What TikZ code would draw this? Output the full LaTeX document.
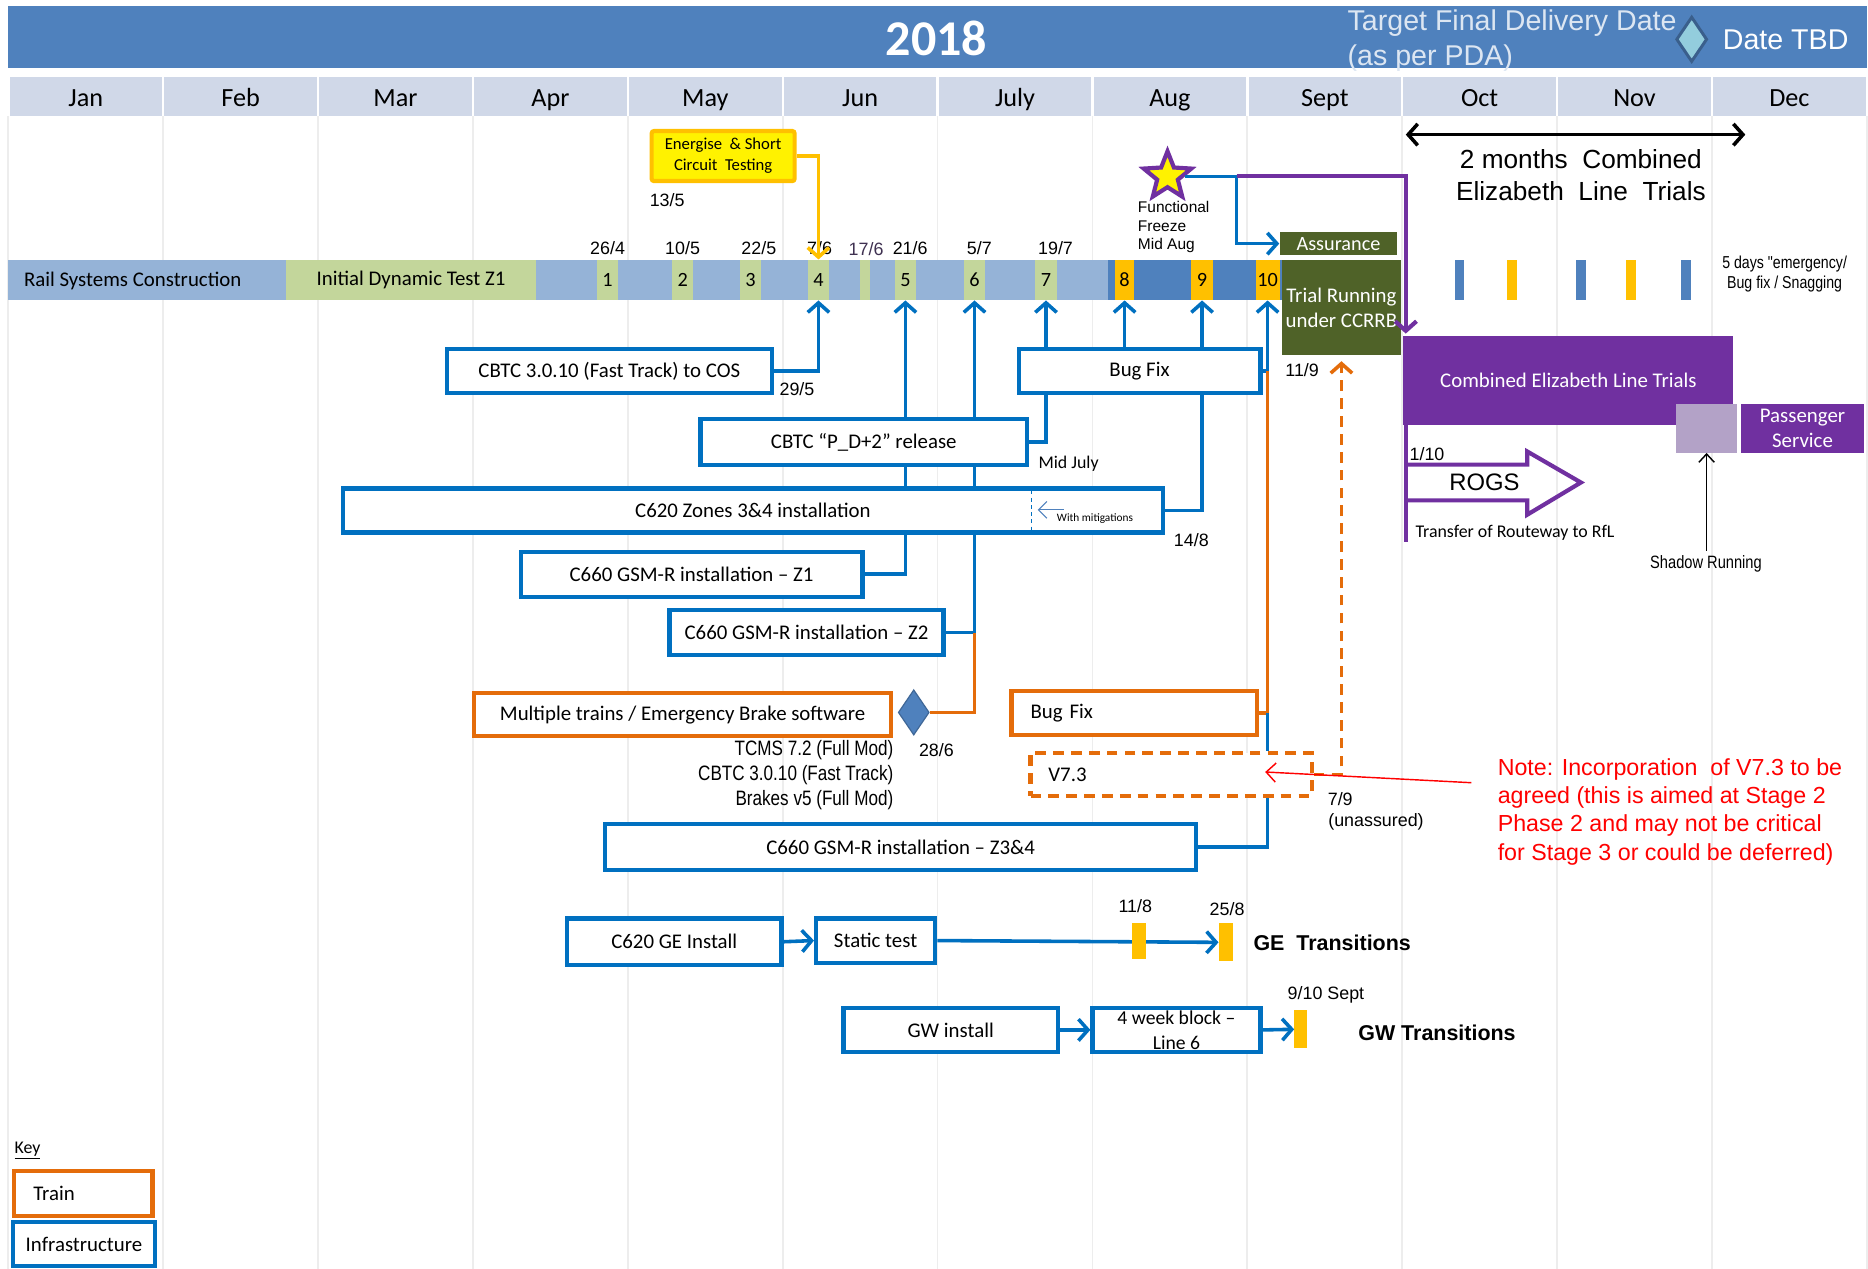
\documentclass[tikz,border=0pt]{standalone}
\usepackage{fontspec}
\setmainfont{Carlito}
\newfontfamily\arial{Liberation Sans}
\newfontfamily\narrow[FakeStretch=0.82]{Liberation Sans}
\usetikzlibrary{arrows.meta,shapes.geometric}
\newcommand\fsz[2]{\fontsize{#1}{#2}\selectfont}
\definecolor{hdr}{HTML}{4F81BD}
\definecolor{mrow}{HTML}{D0D8E8}
\definecolor{barl}{HTML}{95B3D7}
\definecolor{grn}{HTML}{C3D69B}
\definecolor{amber}{HTML}{FFC000}
\definecolor{iblue}{HTML}{0070C0}
\definecolor{torange}{HTML}{E46C0A}
\definecolor{olive}{HTML}{4F6228}
\definecolor{purp}{HTML}{7030A0}
\definecolor{lpurp}{HTML}{B3A2C7}
\definecolor{gridc}{HTML}{EDEDED}
\definecolor{diafill}{HTML}{93CDDD}
\definecolor{diaedge}{HTML}{3A5F8C}
\definecolor{tgt}{HTML}{DCE6F2}
\definecolor{dpurp}{HTML}{3F3151}
\tikzset{
  ibox/.style={draw=iblue, line width=3.5pt, fill=white, inner sep=0pt, font=\fsz{17.5}{19}, align=center},
  obox/.style={ibox, draw=torange},
  conn/.style={draw=iblue, line width=3pt},
  oconn/.style={draw=torange, line width=3pt},
  odash/.style={draw=torange, line width=3pt, dash pattern=on 9pt off 6pt},
  yconn/.style={draw=amber, line width=3pt},
  pline/.style={draw=purp, line width=3.5pt},
  tip/.style={-{Straight Barb[length=8pt,width=18pt]}},
  date/.style={font=\arial\fsz{15}{17}, inner sep=0pt},
  gbox/.style={fill=grn, minimum width=18pt, minimum height=34pt, inner sep=0pt, font=\fsz{17}{19}},
  abox/.style={gbox, fill=amber},
  wbox/.style={text=white, inner sep=0pt, font=\fsz{17.5}{21}, align=center},
}
\begin{document}
\begin{tikzpicture}[x=1pt,y=-1pt]
\path[use as bounding box] (0,0) rectangle (1568,1065);
\fill[white] (0,0) rectangle (1568,1065);
% header
\fill[hdr] (7,5) rectangle (1567,57);
\fill[mrow] (7,65) rectangle (1567,97);
\foreach \i in {0,...,12}{
  \draw[gridc, line width=1.5pt] ({7+130*\i},97) -- ({7+130*\i},1065);
  \draw[white, line width=2pt] ({7+130*\i},65) -- ({7+130*\i},97);
}
\foreach \m [count=\i from 0] in {Jan,Feb,Mar,Apr,May,Jun,July,Aug,Sept,Oct,Nov,Dec}
  \node[font=\fsz{22}{24}, anchor=base, inner sep=0pt] (m\i) at ({72+130*\i},89) {\m};
\node[font=\bfseries\fsz{42}{46}, text=white] (yr) at (786,32) {2018};
\node[font=\arial\fsz{24}{29}, text=tgt, align=left, anchor=west, inner sep=0pt] (target) at (1131,34) {Target Final Delivery Date\\(as per PDA)};
\node[diamond, fill=diafill, draw=diaedge, line width=2.5pt, minimum width=26pt, minimum height=38pt, inner sep=0pt] (tbd) at (1420,33) {};
\node[font=\arial\fsz{24}{28}, text=white, anchor=west, inner sep=0pt] (tbdl) at (1446,33) {Date TBD};

% energise
\node[fill=yellow, draw=amber, line width=3.5pt, rounded corners=2pt, minimum width=120pt, minimum height=42pt, font=\fsz{14}{17.5}, align=center, inner sep=0pt] (energ) at (607,131) {Energise\ \ \& Short\\Circuit\ \ Testing};
\node[date] (d135) at (560,168) {13/5};

% main bar
\fill[barl] (7,218) rectangle (930,252);
\fill[hdr] (930,218) rectangle (1076,252);
\node[font=\fsz{17.5}{19}, anchor=west, inner sep=0pt] (rsc) at (20,236) {Rail Systems Construction};
\node[fill=grn, minimum width=210pt, minimum height=34pt, inner sep=0pt, font=\fsz{17.5}{19}] (idt) at (345,235) {Initial Dynamic Test Z1};
\node[gbox] (n1) at (510,235) {1};
\node[gbox] (n2) at (573,235) {2};
\node[gbox] (n3) at (630,235) {3};
\node[gbox] (n4) at (687,235) {4};
\node[gbox, minimum width=8pt] (ns) at (726,235) {};
\node[gbox] (n5) at (760,235) {5};
\node[gbox] (n6) at (818,235) {6};
\node[gbox] (n7) at (878,235) {7};
\node[abox, minimum width=16pt] (n8) at (944,235) {8};
\node[abox] (n9) at (1009,235) {9};
\node[abox, minimum width=20pt] (n10) at (1064,235) {10};
\node[date] (d1) at (510,208) {26/4};
\node[date] (d2) at (573,208) {10/5};
\node[date] (d3) at (637,208) {22/5};
\node[date] (d4) at (688,208) {7/6};
\node[date, text=dpurp] (d5) at (727,209) {17/6};
\node[date] (d6) at (764,208) {21/6};
\node[date] (d7) at (822,208) {5/7};
\node[date] (d8) at (886,208) {19/7};

% assurance / trial
\node[fill=olive, minimum width=99pt, minimum height=19pt, wbox, font=\fsz{17}{19}] (assur) at (1123.5,204.5) {Assurance};
\node[fill=olive, minimum width=100pt, minimum height=80pt, wbox] (trial) at (1126,258) {Trial Running\\under CCRRB};

% star
\node[star, star points=5, star point ratio=2.3, fill=yellow, draw=purp, line width=3.5pt, minimum size=42pt, inner sep=0pt] (star) at (980,148) {};
\node[font=\arial\fsz{13}{15.5}, align=left, anchor=north west, inner sep=0pt] (ff) at (955,169) {Functional\\Freeze\\Mid Aug};
\coordinate (fj) at (1038,148);
\coordinate (pj) at (1180,148);
\draw[conn, tip] (star.east) -- (fj) |- (assur.west);
\draw[pline, tip] (fj) -- (pj) -- (pj |- 0,280);

% top right
\coordinate (dal) at (1180,113);
\coordinate (dar) at (1465,113);
\draw[line width=3pt, {Straight Barb[length=8pt,width=18pt]}-{Straight Barb[length=8pt,width=18pt]}] (dal) -- (dar);
\node[font=\arial\fsz{22}{27}, align=center] (cmt) at (1327,147) {2 months\ \ Combined\\Elizabeth\ \ Line\ \ Trials};
\fill[hdr] (1221,218) rectangle (1229,252);
\fill[amber] (1265,218) rectangle (1273,252);
\fill[hdr] (1323,218) rectangle (1331,252);
\fill[amber] (1365,218) rectangle (1373,252);
\fill[hdr] (1411,218) rectangle (1419,252);
\node[font=\narrow\fsz{14.5}{16}, align=center] (emerg) at (1498,230) {5 days "emergency/\\Bug fix / Snagging};

\node[fill=purp, minimum width=277pt, minimum height=75pt, wbox] (cet) at (1316.5,319.5) {Combined Elizabeth Line Trials};
\node[fill=lpurp, minimum width=51pt, minimum height=41pt, inner sep=0pt] (lp) at (1432.5,359.5) {};
\node[fill=purp, minimum width=104pt, minimum height=41pt, wbox] (ps) at (1513,359.5) {Passenger\\Service};
\node[font=\narrow\fsz{15}{17}] (shadow) at (1432,473) {Shadow Running};
\draw[line width=1.2pt, -{Straight Barb[length=7pt,width=13pt]}] (shadow.north -| lp.south) -- (lp.south);

\coordinate (rv1) at (1180,357);
\coordinate (rv2) at (1180,455);
\draw[pline] (rv1) -- (rv2);
\draw[purp, line width=3.5pt, line join=miter] (1180,390) -- (1282,390) -- (1282,379) -- (1327,405) -- (1282,432) -- (1282,420) -- (1180,420);
\node[font=\arial\fsz{20}{22}] (rogs) at (1246,405) {ROGS};
\node[date, anchor=west] (d110) at (1183,381) {1/10};
\node[font=\fsz{15}{17}, anchor=west, inner sep=0pt] (trf) at (1188,447) {Transfer of Routeway to RfL};

% middle boxes
\node[ibox, minimum width=273pt, minimum height=37pt] (cbtc) at (511.5,311.5) {CBTC 3.0.10 (Fast Track) to COS};
\node[ibox, minimum width=203pt, minimum height=37pt] (bugfixb) at (956.5,311.5) {Bug Fix};
\node[ibox, minimum width=274pt, minimum height=38pt] (pd2) at (725,371) {CBTC “P\_D+2” release};
\node[ibox, minimum width=688pt, minimum height=37pt] (c620) at (632,428.5) {C620 Zones 3\&4 installation};
\draw[iblue, line width=0.8pt, dashed] (866,412) -- (866,445);
\node[font=\fsz{9.5}{11}, anchor=west, inner sep=0pt] (wm) at (887,435) {With mitigations};
\coordinate (wma) at (893,428);
\draw[hdr, line width=1pt, -{Straight Barb[length=7pt,width=14pt]}] (wma) -- (871,428);
\node[ibox, minimum width=287pt, minimum height=38pt] (z1) at (580.5,482) {C660 GSM-R installation – Z1};
\node[ibox, minimum width=230pt, minimum height=38pt] (z2) at (677,531) {C660 GSM-R installation – Z2};
\node[obox, minimum width=350pt, minimum height=36pt] (mult) at (573,600) {Multiple trains / Emergency Brake software};
\node[diamond, fill=hdr, draw=hdr!80!black, line width=1pt, minimum width=26pt, minimum height=38pt, inner sep=0pt] (dia) at (767,598) {};
\node[obox, minimum height=37pt, text width=174pt, inner xsep=16pt, align=left] (bugfixo) at (952,598.5) {Bug Fix};
\node[obox, dash pattern=on 9pt off 6pt, minimum height=36pt, text width=206pt, inner xsep=15pt, align=left] (v73) at (983,650) {V7.3};
\node[ibox, minimum width=496pt, minimum height=38pt] (z34) at (756,711) {C660 GSM-R installation – Z3\&4};

\node[date] (d295) at (669,327) {29/5};
\node[font=\fsz{15}{17}] (midjul) at (897,389) {Mid July};
\node[date] (d148) at (1000,453) {14/8};
\node[date] (d119) at (1093,311) {11/9};
\node[date] (d286) at (786,630) {28/6};
\node[font=\narrow\fsz{17.5}{21}, align=right, anchor=east, inner sep=0pt] (tcms) at (750,651) {TCMS 7.2 (Full Mod)\\CBTC 3.0.10 (Fast Track)\\Brakes v5 (Full Mod)};
\node[date] (d79) at (1125,671) {7/9};
\node[date] (unas) at (1155,690) {(unassured)};
\node[font=\arial\fsz{19.5}{23.6}, text=red, align=left, anchor=west, inner sep=0pt] (note) at (1257,681.5) {Note: Incorporation\ \ of V7.3 to be\\agreed (this is aimed at Stage 2\\Phase 2 and may not be critical\\for Stage 3 or could be deferred)};
\coordinate (ra1) at (1235,657);
\coordinate (ra2) at (1062,648);

% connectors
\draw[yconn, tip] (energ.east) -| (n4.north);
\draw[conn, tip] (cbtc.east) -| (n4.south);
\draw[conn, tip] (pd2.north -| n5.south) -- (n5.south);
\draw[conn, tip] (pd2.north -| n6.south) -- (n6.south);
\draw[conn] (pd2.east) -| (bugfixb.south -| n7.south);
\draw[conn, tip] (bugfixb.north -| n7.south) -- (n7.south);
\draw[conn, tip] (bugfixb.north -| n8.south) -- (n8.south);
\draw[conn, tip] (bugfixb.north -| n9.south) -- (n9.south);
\draw[conn] (c620.east) -| (bugfixb.south -| n9.south);
\draw[conn] (c620.north -| n5.south) -- (pd2.south -| n5.south);
\draw[conn] (c620.north -| n6.south) -- (pd2.south -| n6.south);
\draw[conn] (z1.east) -| (c620.south -| n5.south);
\draw[conn] (z2.east) -| (c620.south -| n6.south);
\draw[oconn] (dia.east) -| (z2.east -| n6.south);
\draw[conn] (bugfixb.east) -- (bugfixb.east -| n10.south);
\draw[conn, tip] (bugfixb.east -| n10.south) -- (n10.south);
\draw[oconn] (bugfixo.east) -| (bugfixb.east -| n10.south);
\draw[conn] (bugfixo.east -| n10.south) -- (v73.north -| n10.south);
\draw[conn] (z34.east) -| (v73.south -| n10.south);
\draw[odash, tip] (v73.east) -| ([yshift=-5pt]trial.south);
\draw[red, line width=1.2pt, -{Straight Barb[length=8pt,width=16pt]}] (ra1) -- (ra2);

% GE / GW
\node[ibox, minimum width=180pt, minimum height=39pt] (ge) at (566,790.5) {C620 GE Install};
\node[ibox, minimum width=100pt, minimum height=37pt] (static) at (735,789.5) {Static test};
\draw[conn, tip] (ge.east) -- (static.west);
\node[fill=amber, minimum width=12pt, minimum height=32pt, inner sep=0pt] (ge2) at (1029,791) {};
\draw[conn, tip] (static.east) -- (ge2.west);
\node[fill=amber, minimum width=12pt, minimum height=30pt, inner sep=0pt] (ge1) at (956,790) {};
\node[date] (d118) at (953,761) {11/8};
\node[date] (d258) at (1030,763) {25/8};
\node[font=\arial\bfseries\fsz{18}{20}, anchor=west, inner sep=0pt] (get) at (1052,791) {GE\ \ Transitions};
\node[ibox, minimum width=180pt, minimum height=37pt] (gw) at (798,864.5) {GW install};
\node[ibox, minimum width=141pt, minimum height=37pt, font=\fsz{16.5}{21}] (block) at (987.5,864.5) {4 week block –\\Line 6};
\draw[conn, tip] (gw.east) -- (block.west);
\node[fill=amber, minimum width=11pt, minimum height=32pt, inner sep=0pt] (gwy) at (1092,864) {};
\draw[conn, tip] (block.east) -- (gwy.west);
\node[date] (d910) at (1113,835) {9/10 Sept};
\node[font=\arial\bfseries\fsz{18}{20}, anchor=west, inner sep=0pt] (gwt) at (1140,867) {GW Transitions};

% key
\node[font=\fsz{15}{17}, anchor=west, inner sep=0pt] (key) at (12,966) {\underline{Key}};
\node[obox, minimum height=38pt, text width=84pt, inner xsep=16pt, align=left] (train) at (70,1002) {Train};
\node[ibox, minimum width=119pt, minimum height=37pt] (infra) at (70.5,1044.5) {Infrastructure};
\end{tikzpicture}
\end{document}
